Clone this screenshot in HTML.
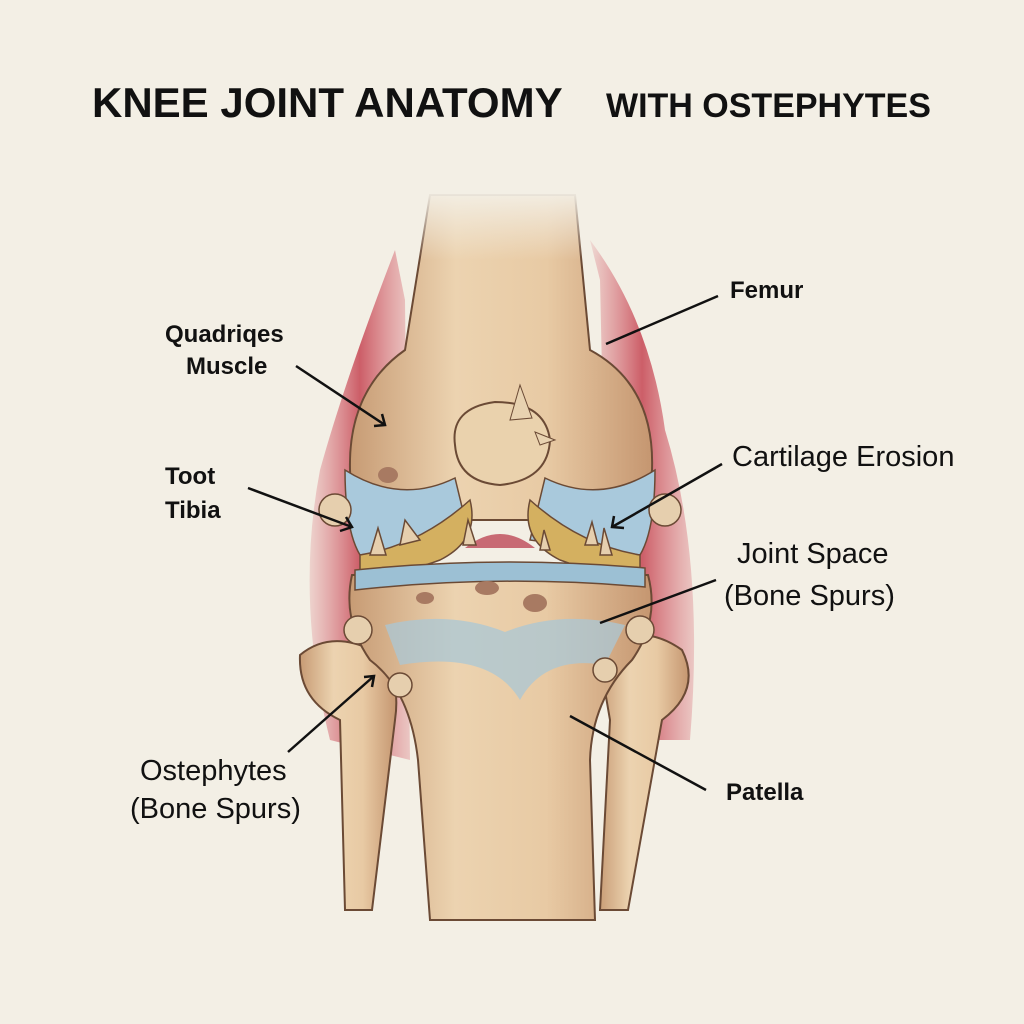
<!DOCTYPE html>
<html><head><meta charset="utf-8"><style>
html,body{margin:0;padding:0;background:#f3efe5;}
svg{display:block}
text{font-family:"Liberation Sans",sans-serif;fill:#111;}
</style></head><body>
<svg width="1024" height="1024" viewBox="0 0 1024 1024">
<defs>
<linearGradient id="bone" x1="0" x2="1" y1="0" y2="0">
<stop offset="0" stop-color="#c79b74"/><stop offset="0.35" stop-color="#ecd3b0"/><stop offset="0.65" stop-color="#e8caa4"/><stop offset="1" stop-color="#c59670"/>
</linearGradient>
<linearGradient id="musc" x1="0" x2="1"><stop offset="0" stop-color="#d9707a" stop-opacity="0.25"/><stop offset="0.5" stop-color="#c84e5a"/><stop offset="1" stop-color="#d9707a" stop-opacity="0.35"/></linearGradient>
<linearGradient id="fade" x1="0" x2="0" y1="0" y2="1"><stop offset="0" stop-color="#f3efe5" stop-opacity="1"/><stop offset="1" stop-color="#f3efe5" stop-opacity="0"/></linearGradient>
</defs>
<rect width="1024" height="1024" fill="#f3efe5"/>
<text x="92" y="117" font-size="42" font-weight="bold">KNEE JOINT ANATOMY</text>
<text x="606" y="117" font-size="34" font-weight="bold">WITH OSTEPHYTES</text>
<!-- muscles -->
<path d="M395 250 Q345 380 320 470 Q295 600 330 740 L410 760 L405 300Z" fill="url(#musc)" opacity="0.9"/>
<path d="M590 240 Q650 320 665 430 Q705 560 690 740 L610 740 L600 280Z" fill="url(#musc)" opacity="0.9"/>
<!-- fibulae -->
<path d="M300 655 Q330 630 372 650 Q402 672 395 720 L372 910 L345 910 L340 720 Q298 700 300 655Z" fill="url(#bone)" stroke="#6b4a35" stroke-width="2"/>
<path d="M598 650 Q640 620 682 650 Q702 690 662 720 L628 910 L600 910 L610 720Z" fill="url(#bone)" stroke="#6b4a35" stroke-width="2"/>
<!-- tibia -->
<path d="M352 575 L648 575 Q660 620 632 660 Q592 700 590 760 L595 920 L430 920 L418 760 Q410 690 370 660 Q342 620 352 575Z" fill="url(#bone)" stroke="#6b4a35" stroke-width="2"/>
<path d="M385 625 Q450 610 505 632 Q560 610 625 625 L605 665 Q545 655 520 700 Q490 650 400 665Z" fill="#a9c7d6" opacity="0.75"/>
<!-- femur -->
<path d="M430 195 L575 195 L590 350 Q655 385 652 470 Q645 525 560 520 L440 520 Q350 525 350 470 Q348 390 405 350Z" fill="url(#bone)" stroke="#6b4a35" stroke-width="2"/>
<rect x="400" y="190" width="200" height="70" fill="url(#fade)"/>
<!-- cartilage -->
<path d="M345 470 Q400 505 455 478 L470 540 L360 555 Q345 530 345 470Z" fill="#a9c9dc" stroke="#6b4a35" stroke-width="1.5"/>
<path d="M545 478 Q600 505 655 470 Q655 530 640 555 L530 540Z" fill="#a9c9dc" stroke="#6b4a35" stroke-width="1.5"/>
<path d="M360 555 Q420 545 470 500 Q480 540 440 560 Q400 575 360 575Z" fill="#d4b060" stroke="#6b4a35" stroke-width="1.5"/>
<path d="M640 555 Q580 545 530 500 Q520 540 560 560 Q600 575 640 575Z" fill="#d4b060" stroke="#6b4a35" stroke-width="1.5"/>
<path d="M465 548 Q500 520 535 548 Z" fill="#c86a74"/>
<path d="M355 570 Q500 555 645 568 L645 587 Q500 574 355 590Z" fill="#9cc0d4" stroke="#6b4a35" stroke-width="1.5"/>
<!-- patella -->
<path d="M455 445 Q450 408 495 402 Q545 402 550 440 Q548 480 500 485 Q458 482 455 445Z" fill="#ead2ad" stroke="#6b4a35" stroke-width="2"/>
<path d="M510 420 L520 385 L532 418Z" fill="#e8d2b0" stroke="#6b4a35"/>
<path d="M535 432 L555 440 L540 445Z" fill="#e8d2b0" stroke="#6b4a35"/>
<g fill="#e6cfae" stroke="#6b4a35" stroke-width="1.5">
<path d="M370 555 L378 528 L386 555Z"/><path d="M400 545 L405 520 L420 540Z"/><path d="M463 545 L468 520 L476 545Z"/>
<path d="M585 545 L592 522 L598 545Z"/><path d="M600 555 L604 528 L612 555Z"/><path d="M540 550 L544 530 L550 550Z"/>
<circle cx="358" cy="630" r="14"/><circle cx="640" cy="630" r="14"/><circle cx="400" cy="685" r="12"/><circle cx="605" cy="670" r="12"/>
<circle cx="335" cy="510" r="16"/><circle cx="665" cy="510" r="16"/>
</g>
<g fill="#a87a62"><ellipse cx="388" cy="475" rx="10" ry="8"/><ellipse cx="425" cy="598" rx="9" ry="6"/><ellipse cx="487" cy="588" rx="12" ry="7"/><ellipse cx="535" cy="603" rx="12" ry="9"/></g>
<g stroke="#111" stroke-width="2.5" fill="none">
<line x1="718" y1="296" x2="606" y2="344"/>
<line x1="296" y1="366" x2="385" y2="425"/><path d="M374 426 L385 425 L382 414"/>
<line x1="248" y1="488" x2="352" y2="527"/><path d="M340 531 L352 527 L346 517"/>
<line x1="722" y1="464" x2="612" y2="527"/><path d="M614 516 L612 527 L624 528"/>
<line x1="716" y1="580" x2="600" y2="623"/>
<line x1="288" y1="752" x2="374" y2="676"/><path d="M364 677 L374 676 L372 687"/>
<line x1="706" y1="790" x2="570" y2="716"/>
</g>
<g font-size="24" font-weight="bold">
<text x="730" y="298">Femur</text>
<text x="165" y="342">Quadriqes</text><text x="186" y="374">Muscle</text>
<text x="165" y="484">Toot</text><text x="165" y="518">Tibia</text>
<text x="726" y="800">Patella</text>
</g>
<g font-size="29">
<text x="732" y="466">Cartilage Erosion</text>
<text x="737" y="563">Joint Space</text><text x="724" y="605">(Bone Spurs)</text>
<text x="140" y="780">Ostephytes</text><text x="130" y="818">(Bone Spurs)</text>
</g>
</svg>
</body></html>
